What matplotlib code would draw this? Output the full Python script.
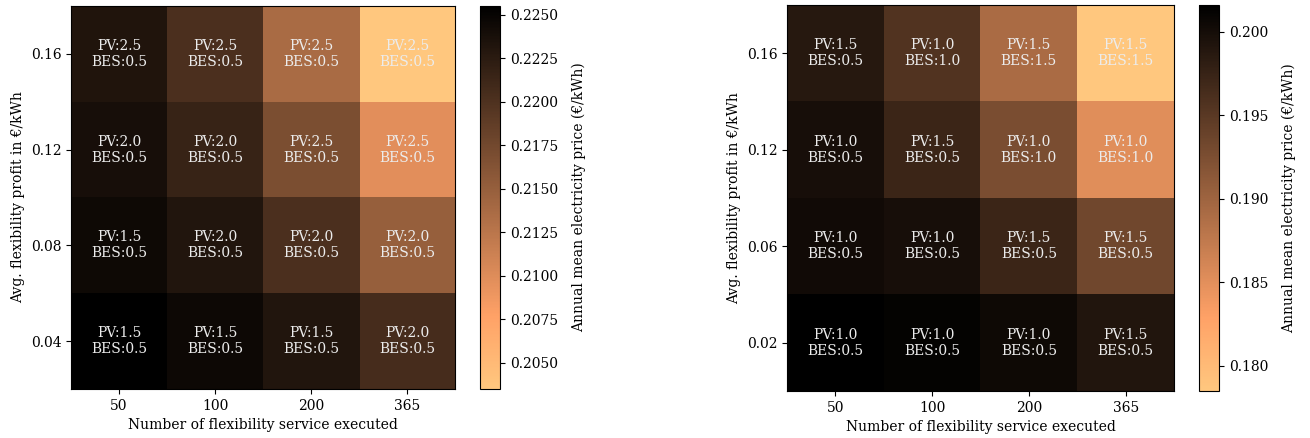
import numpy as np
import matplotlib
matplotlib.use("Agg")
import matplotlib.pyplot as plt

# x: number of flexibility services executed, y: avg. flexibility profit (top to bottom)
services = ["50", "100", "200", "365"]
profit_left = ["0.16", "0.12", "0.08", "0.04"]
profit_right = ["0.16", "0.12", "0.06", "0.02"]

# annual mean electricity price (EUR/kWh), rows from top to bottom
price_left = np.array([
    [0.2232, 0.2202, 0.2137, 0.2035],
    [0.2238, 0.2216, 0.2169, 0.2097],
    [0.2244, 0.2231, 0.2202, 0.2150],
    [0.2255, 0.2245, 0.2231, 0.2206],
])
price_right = np.array([
    [0.1988, 0.1956, 0.1891, 0.1785],
    [0.1998, 0.1972, 0.1926, 0.1851],
    [0.2003, 0.1998, 0.1972, 0.1933],
    [0.2016, 0.2012, 0.2005, 0.1991],
])

# optimal sizing labels
pv_left = [[2.5, 2.5, 2.5, 2.5], [2.0, 2.0, 2.5, 2.5],
           [1.5, 2.0, 2.0, 2.0], [1.5, 1.5, 1.5, 2.0]]
bes_left = [[0.5, 0.5, 0.5, 0.5], [0.5, 0.5, 0.5, 0.5],
            [0.5, 0.5, 0.5, 0.5], [0.5, 0.5, 0.5, 0.5]]
pv_right = [[1.5, 1.0, 1.5, 1.5], [1.0, 1.5, 1.0, 1.0],
            [1.0, 1.0, 1.5, 1.5], [1.0, 1.0, 1.0, 1.5]]
bes_right = [[0.5, 1.0, 1.5, 1.5], [0.5, 0.5, 1.0, 1.0],
             [0.5, 0.5, 0.5, 0.5], [0.5, 0.5, 0.5, 0.5]]

plt.rcParams['font.family'] = 'DejaVu Serif'
plt.rcParams['font.size'] = 10

W, H = 1310, 438
fig = plt.figure(figsize=(W / 100, H / 100), dpi=100)


def px(x0, y0, x1, y1):
    # pixel box -> figure fraction rect
    return [x0 / W, 1 - y1 / H, (x1 - x0) / W, (y1 - y0) / H]


def heatmap(ax_rect, cb_rect, data, pv, bes, ylabels, cticks, cfmt):
    ax = fig.add_axes(px(*ax_rect))
    im = ax.imshow(data, cmap='copper_r', aspect='auto')
    for i in range(data.shape[0]):
        for j in range(data.shape[1]):
            ax.text(j, i, "PV:%.1f\nBES:%.1f" % (pv[i][j], bes[i][j]),
                    ha='center', va='center', color='#ececec', fontsize=10)
    ax.set_xticks(range(len(services)))
    ax.set_xticklabels(services)
    ax.set_yticks(range(len(ylabels)))
    ax.set_yticklabels(ylabels)
    ax.set_xlabel("Number of flexibility service executed")
    ax.set_ylabel("Avg. flexibility profit in €/kWh")
    cax = fig.add_axes(px(*cb_rect))
    cb = fig.colorbar(im, cax=cax, ticks=cticks)
    cb.ax.set_yticklabels([cfmt % t for t in cticks])
    cb.set_label("Annual mean electricity price (€/kWh)", labelpad=10)
    return ax


heatmap((71, 6, 455, 389), (480, 6, 500, 389), price_left, pv_left, bes_left,
        profit_left, np.arange(0.2050, 0.22501, 0.0025), "%.4f")
heatmap((787, 5, 1174, 391), (1199, 5, 1219, 391), price_right, pv_right,
        bes_right, profit_right, np.arange(0.180, 0.2001, 0.005), "%.3f")

fig.savefig("out.png", dpi=100)
